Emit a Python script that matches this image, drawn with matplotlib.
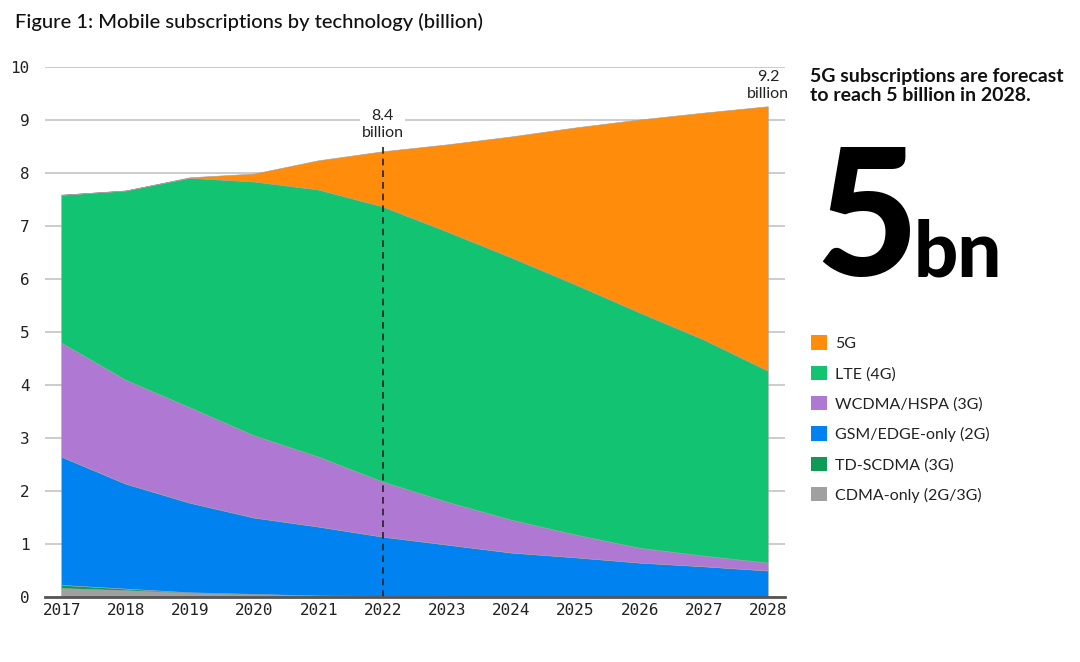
import numpy as np
import matplotlib
matplotlib.use("Agg")
import matplotlib.pyplot as plt
from matplotlib.patches import Patch

years = list(range(2017, 2029))

# billions (stack order bottom -> top)
cdma = [0.16, 0.12, 0.07, 0.04, 0.02, 0.01, 0, 0, 0, 0, 0, 0]
td_scdma = [0.06, 0.03, 0.01, 0.01, 0, 0, 0, 0, 0, 0, 0, 0]
gsm = [2.42, 1.98, 1.69, 1.44, 1.30, 1.12, 0.98, 0.83, 0.74, 0.64, 0.57, 0.49]
wcdma = [2.15, 1.96, 1.80, 1.55, 1.32, 1.04, 0.81, 0.62, 0.43, 0.28, 0.20, 0.15]
lte = [2.79, 3.57, 4.33, 4.79, 5.04, 5.19, 5.10, 4.95, 4.72, 4.44, 4.08, 3.62]
g5 = [0, 0, 0.01, 0.15, 0.55, 1.04, 1.64, 2.28, 2.96, 3.64, 4.28, 4.99]

labels = ["CDMA-only (2G/3G)", "TD-SCDMA (3G)", "GSM/EDGE-only (2G)",
          "WCDMA/HSPA (3G)", "LTE (4G)", "5G"]
colors = ["#a0a0a0", "#0d9b55", "#0082f0", "#af78d2", "#12c372", "#ff8c0a"]

fig = plt.figure(figsize=(10.8, 6.62), dpi=100)
ax = fig.add_axes([45 / 1080, 1 - 597 / 662, (785 - 45) / 1080, (597 - 67) / 662])

series = [cdma, td_scdma, gsm, wcdma, lte, g5]
ax.stackplot(years, series, colors=colors, edgecolor=colors, linewidth=0.4, zorder=2)

ax.set_xlim(2016.74, 2028.26)
ax.set_ylim(0, 10)
ax.set_yticks(range(0, 11))
ax.set_xticks(years)
ax.grid(axis="y", color="#c8c8c8", linewidth=1.3, zorder=0)
ax.set_axisbelow(True)
for s in ["top", "right", "left"]:
    ax.spines[s].set_visible(False)
ax.spines["bottom"].set_color("#555555")
ax.spines["bottom"].set_linewidth(2)
ax.spines["bottom"].set_zorder(5)
ax.tick_params(length=0, labelsize=11.5)
ax.tick_params(axis="y", pad=11)
ax.tick_params(axis="x", pad=4)
for t in ax.get_xticklabels() + ax.get_yticklabels():
    t.set_fontfamily("DejaVu Sans Mono")
    t.set_color("#222222")

# 2022 marker
ax.vlines(2022, 0, 8.53, colors="#222222", linestyles=(0, (4, 3)), linewidth=1.2, zorder=4)
ax.text(2022, 8.62, "8.4\nbillion", ha="center", va="bottom", fontsize=11.5,
        family="Lato", color="#222222", linespacing=1.3,
        bbox=dict(facecolor="white", edgecolor="none", pad=1), zorder=6)
ax.text(2028, 9.36, "9.2\nbillion", ha="center", va="bottom", fontsize=11.5,
        family="Lato", color="#222222", linespacing=1.3,
        bbox=dict(facecolor="white", edgecolor="none", pad=1), zorder=6)

fig.text(15 / 1080, 1 - 22 / 662, "Figure 1: Mobile subscriptions by technology (billion)",
         fontsize=14.5, family="Lato", fontweight="medium", color="#111111",
         va="center", ha="left")

fig.text(810 / 1080, 1 - 86 / 662, "5G subscriptions are forecast\nto reach 5 billion in 2028.",
         fontsize=14, family="Lato", fontweight="bold", color="#111111",
         va="center", ha="left", linespacing=1.2)

fig.text(815 / 1080, 1 - 276 / 662, "5", fontsize=128, family="Lato", fontweight="black",
         color="black", va="baseline", ha="left")
fig.text(914 / 1080, 1 - 276 / 662, "bn", fontsize=56, family="Lato", fontweight="black",
         color="black", va="baseline", ha="left")

handles = [Patch(facecolor=c, edgecolor="none", label=l) for c, l in zip(colors, labels)][::-1]
leg = fig.legend(handles=handles, loc="upper left", bbox_to_anchor=(797 / 1080, 1 - 321 / 662),
                 frameon=False, handlelength=1.0, handleheight=1.0, handletextpad=0.5,
                 labelspacing=0.92, prop={"family": "Lato", "size": 11.5})
for t in leg.get_texts():
    t.set_color("#222222")

fig.savefig("out.png", dpi=100)
